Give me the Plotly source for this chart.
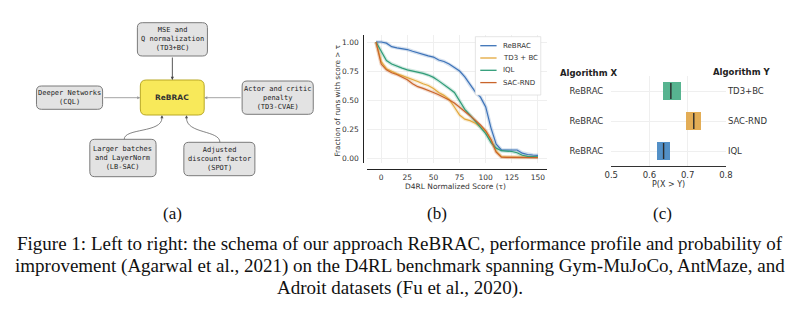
import plotly.graph_objects as go

W, H = 800, 331

# ---------------- data ----------------
# (b) performance profile: fraction of runs with score > tau
tau = [-5, 0, 5, 10, 15, 20, 25, 30, 35, 40, 45, 50, 55, 60, 65, 70, 75, 80,
       85, 90, 95, 100, 105, 110, 115, 120, 125, 130, 135, 140, 145, 150]
rebrac = [1.0, 1.0, 0.99, 0.96, 0.95, 0.945, 0.935, 0.92, 0.905, 0.89, 0.88, 0.87,
          0.845, 0.832, 0.81, 0.78, 0.75, 0.70, 0.63, 0.57, 0.525, 0.44, 0.26, 0.12,
          0.069, 0.069, 0.069, 0.069, 0.042, 0.030, 0.026, 0.023]
td3_bc = [1.0, 0.83, 0.77, 0.745, 0.725, 0.71, 0.695, 0.68, 0.66, 0.64, 0.625, 0.60,
          0.565, 0.54, 0.505, 0.44, 0.37, 0.335, 0.322, 0.30, 0.27, 0.23, 0.16, 0.06,
          0.012, 0.008, 0.008, 0.007, 0.007, 0.006, 0.006, 0.006]
iql = [1.0, 0.92, 0.84, 0.81, 0.79, 0.775, 0.76, 0.75, 0.745, 0.73, 0.715, 0.695,
       0.665, 0.635, 0.60, 0.565, 0.49, 0.42, 0.37, 0.32, 0.265, 0.21, 0.135, 0.085,
       0.063, 0.06, 0.056, 0.045, 0.024, 0.014, 0.010, 0.009]
sac_rnd = [1.0, 0.81, 0.76, 0.735, 0.72, 0.70, 0.675, 0.64, 0.615, 0.60, 0.585, 0.565,
           0.545, 0.525, 0.50, 0.475, 0.44, 0.405, 0.365, 0.325, 0.285, 0.235, 0.16,
           0.05, 0.008, 0.005, 0.005, 0.004, 0.004, 0.004, 0.004, 0.004]
profile_names = ["ReBRAC", "TD3 + BC", "IQL", "SAC-RND"]
profile_values = [rebrac, td3_bc, iql, sac_rnd]
x_ticks_b = [0, 25, 50, 75, 100, 125, 150]
y_ticks_b = [0.0, 0.25, 0.5, 0.75, 1.0]

# (c) probability of improvement, ReBRAC vs each baseline
algo_x = ["ReBRAC", "ReBRAC", "ReBRAC"]
algo_y = ["TD3+BC", "SAC-RND", "IQL"]
poi_low = [0.635, 0.696, 0.620]
poi_high = [0.682, 0.736, 0.654]
poi_mid = [0.656, 0.716, 0.637]
x_ticks_c = [0.5, 0.6, 0.7, 0.8]

# (a) schema boxes
schema_texts = [
    "MSE and<br>Q normalization<br>(TD3+BC)",
    "Deeper Networks<br>(CQL)",
    "Actor and critic<br>penalty<br>(TD3-CVAE)",
    "Larger batches<br>and LayerNorm<br>(LB-SAC)",
    "Adjusted<br>discount factor<br>(SPOT)",
]
center_text = "ReBRAC"

# ---------------- styles ----------------
profile_colors = ["#3d73b8", "#e3a83c", "#2f9c78", "#c9642b"]
poi_colors = ["#4fb08b", "#e2a94e", "#4a8bc5"]
SANS = "DejaVu Sans"
MONO = "DejaVu Sans Mono"
SERIF = "Liberation Serif"
INK = "#333333"


def fx(px):
    return px / W


def fy(py):
    return 1 - py / H


def label(x, y, text, font, **kw):
    d = dict(x=x, y=y, xref="paper", yref="paper", text=text, showarrow=False,
             xanchor="center", yanchor="middle", font=font)
    d.update(kw)
    return d


fig = go.Figure()

# ---------- (b) performance profile ----------
for name, vals, col in zip(profile_names, profile_values, profile_colors):
    # soft confidence band under each curve
    fig.add_trace(go.Scatter(x=tau, y=vals, mode="lines", xaxis="x", yaxis="y",
                             line=dict(color=col, width=3.6), opacity=0.22,
                             hoverinfo="skip", showlegend=False))
for name, vals, col in zip(profile_names, profile_values, profile_colors):
    fig.add_trace(go.Scatter(x=tau, y=vals, mode="lines", name=name,
                             xaxis="x", yaxis="y",
                             line=dict(color=col, width=1.2), showlegend=False))

# ---------- (c) probability of improvement ----------
rows = list(range(len(algo_y)))[::-1]  # first entry on top
fig.add_trace(go.Bar(
    y=rows, x=[h - l for l, h in zip(poi_low, poi_high)], base=poi_low,
    orientation="h", width=0.57, marker=dict(color=poi_colors, line=dict(width=0)),
    opacity=0.95, xaxis="x2", yaxis="y2", showlegend=False))
fig.add_trace(go.Scatter(
    y=rows, x=poi_mid, mode="markers", xaxis="x2", yaxis="y2",
    marker=dict(symbol="line-ns", size=11.5, line=dict(width=1.4, color="#2b2b2b")),
    showlegend=False))
# right-hand labels share the rows
fig.add_trace(go.Scatter(y=rows, x=poi_mid, mode="markers", xaxis="x2", yaxis="y4",
                         marker=dict(opacity=0), hoverinfo="skip", showlegend=False))

# ---------- (a) schema ----------
fig.add_trace(go.Scatter(x=[0, 330], y=[0, 200], mode="markers", xaxis="x3", yaxis="y3",
                         marker=dict(opacity=0), hoverinfo="skip", showlegend=False))

shapes = []
annotations = []


def rounded(x0, y0, x1, y1, r):
    return (f"M {x0+r},{y0} L {x1-r},{y0} Q {x1},{y0} {x1},{y0+r} "
            f"L {x1},{y1-r} Q {x1},{y1} {x1-r},{y1} L {x0+r},{y1} "
            f"Q {x0},{y1} {x0},{y1-r} L {x0},{y0+r} Q {x0},{y0} {x0+r},{y0} Z")


box_frames = [
    (132.7, 22.7, 204.0, 56.0),
    (30.0, 86.0, 97.3, 109.3),
    (239.3, 81.0, 311.7, 114.3),
    (84.3, 139.3, 151.7, 176.7),
    (180.0, 142.3, 252.3, 175.7),
]
for (x0, y0, x1, y1), txt in zip(box_frames, schema_texts):
    shapes.append(dict(type="path", xref="x3", yref="y3", path=rounded(x0, y0, x1, y1, 5),
                       fillcolor="#e3e3e3", line=dict(color="#7a7a7a", width=1)))
    annotations.append(dict(x=(x0 + x1) / 2, y=(y0 + y1) / 2, xref="x3", yref="y3",
                            text=txt, showarrow=False, xanchor="center", yanchor="middle",
                            font=dict(family=MONO, size=7, color="#222222")))
shapes.append(dict(type="path", xref="x3", yref="y3",
                   path=rounded(135.7, 80.0, 200.7, 115.0, 6),
                   fillcolor="#f8e95a", line=dict(color="#b9a824", width=1)))
annotations.append(dict(x=168.2, y=97.5, xref="x3", yref="y3", text="<b>ReBRAC</b>",
                        showarrow=False, xanchor="center", yanchor="middle",
                        font=dict(family=SANS, size=7.5, color=INK)))

# curved connectors from the lower boxes
shapes.append(dict(type="path", xref="x3", yref="y3",
                   path="M 119.3,139.3 C 119.3,128 157.7,133 157.7,118",
                   line=dict(color="#666666", width=0.8)))
shapes.append(dict(type="path", xref="x3", yref="y3",
                   path="M 216.7,142.3 C 216.7,130 182.7,134 182.7,118",
                   line=dict(color="#666666", width=0.8)))

arrows = [
    (168.3, 56.0, 168.3, 80.0, "#444444"),
    (97.3, 97.7, 135.7, 97.7, "#9a9a9a"),
    (239.3, 97.7, 200.7, 97.7, "#9a9a9a"),
    (157.7, 119.0, 157.7, 115.2, "#555555"),
    (182.7, 119.0, 182.7, 115.2, "#555555"),
]
for ax0, ay0, ax1, ay1, col in arrows:
    annotations.append(dict(x=ax1, y=ay1, ax=ax0, ay=ay0, xref="x3", yref="y3",
                            axref="x3", ayref="y3", text="", showarrow=True,
                            arrowhead=2, arrowsize=0.7, arrowwidth=0.9, arrowcolor=col,
                            standoff=0, startstandoff=0))

# ---------- (b) legend ----------
shapes.append(dict(type="rect", xref="paper", yref="paper",
                   x0=fx(476.7), x1=fx(543.3), y0=fy(95.0), y1=fy(36.7),
                   fillcolor="white", line=dict(color="#dddddd", width=0.8), layer="above"))
for i, (name, col) in enumerate(zip(profile_names, profile_colors)):
    yy = 45.7 + i * 12.3
    shapes.append(dict(type="line", xref="paper", yref="paper",
                       x0=fx(481.7), x1=fx(498.3), y0=fy(yy), y1=fy(yy),
                       line=dict(color=col, width=1.3), layer="above"))
    annotations.append(label(fx(503.3), fy(yy), name,
                             dict(family=SANS, size=7, color=INK), xanchor="left"))

# axis titles of (b)
annotations.append(label(fx(336), fy(100.5), "Fraction of runs with score > τ",
                         dict(family=SANS, size=7.3, color=INK), textangle=-90))
annotations.append(label(fx(456.7), fy(186), "D4RL Normalized Score (τ)",
                         dict(family=SANS, size=7.5, color=INK)))

# headers and title of (c)
annotations.append(label(fx(592), fy(72.7), "<b>Algorithm X</b>",
                         dict(family=SANS, size=8.5, color="#222222")))
annotations.append(label(fx(748), fy(72.2), "<b>Algorithm Y</b>",
                         dict(family=SANS, size=8.5, color="#222222")))
annotations.append(label(fx(673.3), fy(184), "P(X > Y)",
                         dict(family=SANS, size=8, color=INK)))

# sub-figure labels and caption
for lab, px in [("(a)", 168), ("(b)", 438), ("(c)", 667)]:
    annotations.append(label(fx(px), fy(213), lab,
                             dict(family=SERIF, size=17, color="#111111")))
caption = [
    "Figure 1: Left to right: the schema of our approach ReBRAC, performance profile and probability of",
    "improvement (Agarwal et al., 2021) on the D4RL benchmark spanning Gym-MuJoCo, AntMaze, and",
    "Adroit datasets (Fu et al., 2020).",
]
for i, line in enumerate(caption):
    annotations.append(label(0.5, fy(243 + 22.5 * i), line,
                             dict(family=SERIF, size=19, color="#111111")))

tickfont_b = dict(family=SANS, size=7.5, color=INK)
tickfont_c = dict(family=SANS, size=8.5, color=INK)
grid = "#efefef"

fig.update_layout(
    width=W, height=H, margin=dict(l=0, r=0, t=0, b=0),
    paper_bgcolor="white", plot_bgcolor="white",
    shapes=shapes, annotations=annotations, bargap=0,
    xaxis=dict(domain=[fx(366), fx(550)], range=[-14, 159], anchor="free",
               position=fy(168.7), tickvals=x_ticks_b, showline=True, linecolor="#222222",
               linewidth=1.1, showgrid=True, gridcolor=grid, gridwidth=0.8, zeroline=False,
               ticks="", tickfont=tickfont_b, ticklabelstandoff=1, fixedrange=True),
    yaxis=dict(domain=[fy(163), fy(34.7)], range=[-0.043, 1.063], anchor="free",
               position=fx(362.7), tickvals=y_ticks_b,
               ticktext=[f"{v:.2f}" for v in y_ticks_b], showline=True,
               linecolor="#222222", linewidth=1.1, showgrid=True, gridcolor=grid,
               gridwidth=0.8, zeroline=False, ticks="", tickfont=tickfont_b,
               ticklabelstandoff=3, fixedrange=True),
    xaxis2=dict(domain=[fx(615), fx(731.7)], range=[0.5, 0.8], anchor="y2",
                tickvals=x_ticks_c, ticktext=[f"{v:.1f}" for v in x_ticks_c],
                showline=True, linecolor="#333333", linewidth=1.1, showgrid=True,
                gridcolor=grid, gridwidth=0.8, zeroline=False, ticks="",
                tickfont=tickfont_c, ticklabelstandoff=1, fixedrange=True),
    yaxis2=dict(domain=[fy(166), fy(76)], range=[-0.5, 2.5], anchor="x2",
                tickvals=rows, ticktext=algo_x, showline=False, showgrid=True,
                gridcolor=grid, gridwidth=0.8, zeroline=False, ticks="",
                tickfont=tickfont_c, ticklabelstandoff=7, fixedrange=True),
    yaxis4=dict(domain=[fy(166), fy(76)], range=[-0.5, 2.5], anchor="x2",
                overlaying="y2", side="right", tickvals=rows, ticktext=algo_y,
                showline=False, showgrid=False, zeroline=False, ticks="",
                tickfont=tickfont_c, ticklabelstandoff=1, fixedrange=True),
    xaxis3=dict(domain=[0, fx(330)], range=[0, 330], visible=False, fixedrange=True),
    yaxis3=dict(domain=[fy(200), 1], range=[200, 0], visible=False, fixedrange=True,
                anchor="x3"),
)

fig.write_html("out.html")
